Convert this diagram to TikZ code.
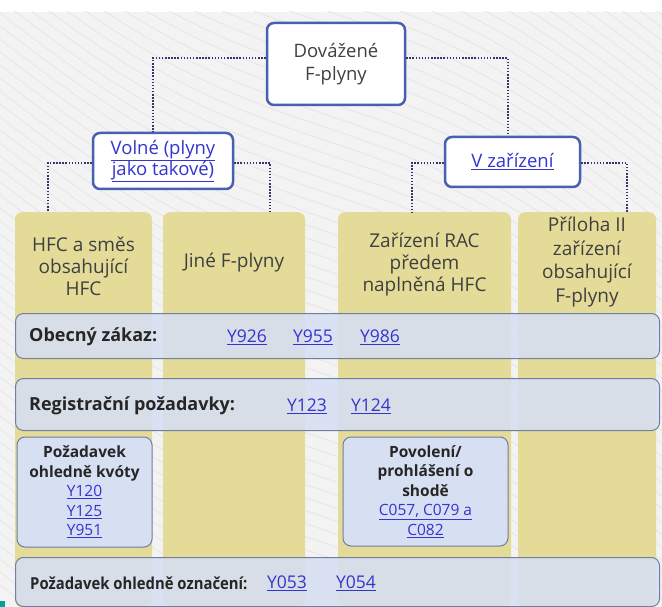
\documentclass[tikz,border=0pt]{standalone}
\usepackage{fontspec}
\setmainfont{Open Sans}
\newfontfamily\narrowfont[FakeStretch=0.9]{Open Sans}
\usetikzlibrary{positioning}
\definecolor{bggray}{RGB}{243,243,243}
\definecolor{wavegray}{RGB}{230,230,230}
\definecolor{frameblue}{RGB}{72,96,176}
\definecolor{dotnavy}{RGB}{52,52,112}
\definecolor{khaki}{RGB}{228,219,153}
\definecolor{barblue}{RGB}{215,223,242}
\definecolor{barline}{RGB}{112,126,160}
\definecolor{linkblue}{RGB}{52,52,208}
\definecolor{textgray}{RGB}{64,64,64}
\definecolor{markteal}{RGB}{0,160,160}
\newcommand{\lnk}[1]{\textcolor{linkblue}{\underline{#1}}}

\tikzset{
  headbox/.style={draw=frameblue, line width=2.5pt, rounded corners=7pt, fill=white,
    align=center, text=textgray, font=\fontsize{18.5}{23}\selectfont},
  conn/.style={draw=dotnavy, line width=1.8pt, dash pattern=on 1.5pt off 1.6pt},
  column/.style={fill=khaki, rounded corners=7pt, inner sep=0pt, anchor=north},
  coltext/.style={align=center, text=textgray, font=\fontsize{19}{22}\selectfont},
  bar/.style={draw=barline, line width=1pt, fill=barblue, fill opacity=0.88,
    rounded corners=8pt, inner sep=0pt, anchor=north west},
  bartext/.style={anchor=west, text=black!85, inner sep=0pt,
    font=\fontsize{18}{20}\selectfont\bfseries},
  link/.style={inner sep=0pt, font=\fontsize{17.5}{20}\selectfont},
  subbox/.style={draw=barline, line width=1pt, fill=barblue, rounded corners=8pt,
    align=center, text=black!85, inner sep=0pt, font=\fontsize{15.5}{19.5}\selectfont},
  wave/.style={draw=wavegray, line width=0.8pt}
}

\begin{document}
\begin{tikzpicture}[x=1pt,y=-1pt]
	\useasboundingbox (0,0) rectangle (662,607);
	\fill[bggray] (0,12) rectangle (662,607);
	\begin{scope}
		\clip (0,12) rectangle (662,607);
		\foreach \i in {-50,...,45}
			\draw[wave] plot[domain=0:662, samples=60, smooth] (\x, {\i*13 + 0.55*\x + 22*sin(0.55*\x)});
	\end{scope}
	\fill[markteal] (0,601) rectangle (5,607);

	% columns
	\node[column, minimum width=137, minimum height=395] (c1) at (83.5,212) {};
	\node[column, minimum width=142, minimum height=395] (c2) at (234,212) {};
	\node[column, minimum width=173, minimum height=395] (c3) at (424.5,212) {};
	\node[column, minimum width=138, minimum height=395] (c4) at (587,212) {};
	\node[coltext] (t1) at (83.5,266) {HFC a směs\\obsahující\\HFC};
	\node[coltext] (t2) at (234,263) {Jiné F-plyny};
	\node[coltext] (t3) at (424.5,265) {Zařízení RAC\\předem\\naplněná HFC};
	\node[coltext, font=\fontsize{19}{23.5}\selectfont] (t4) at (587,262) {Příloha II\\zařízení\\obsahující\\F-plyny};

	% tree
	\node[headbox, minimum width=138, minimum height=82] (root) at (336,64) {Dovážené\\F-plyny};
	\node[headbox, minimum width=140, minimum height=56, font=\fontsize{18.5}{21}\selectfont] (free) at (163,161) {\lnk{Volné (plyny}\\\lnk{jako takové)}};
	\node[headbox, minimum width=135, minimum height=50] (equip) at (512.5,162) {\lnk{V zařízení}};

	\draw[conn] ([yshift=6pt]root.west) -| ([xshift=-10pt]free.north);
	\draw[conn] ([yshift=6pt]root.east) -| ([xshift=-4.5pt]equip.north);
	\draw[conn] ([yshift=-2pt]free.west) -| ([xshift=-35.5pt]c1.north);
	\draw[conn] ([yshift=-2pt]free.east) -| ([xshift=36pt]c2.north);
	\draw[conn] ([yshift=-1pt]equip.west) -| ([xshift=-12.5pt]c3.north);
	\draw[conn] ([yshift=-1pt]equip.east) -| ([xshift=40pt]c4.north);

	% requirement bars
	\node[bar, minimum width=644, minimum height=45] (ban) at (15,313) {};
	\node[bartext] (bantext) at (29,337) {Obecný zákaz:};
	\node[link] (y926) at (247,337) {\lnk{Y926}};
	\node[link] (y955) at (313,337) {\lnk{Y955}};
	\node[link] (y986) at (380,337) {\lnk{Y986}};

	\node[bar, minimum width=644, minimum height=52] (reg) at (15,378) {};
	\node[bartext] (regtext) at (29,406) {Registrační požadavky:};
	\node[link] (y123) at (307,406) {\lnk{Y123}};
	\node[link] (y124) at (371,406) {\lnk{Y124}};

	\node[subbox, minimum width=135, minimum height=110] (quota) at (84.5,492) {\textbf{Požadavek}\\\textbf{ohledně kvóty}\\\lnk{Y120}\\\lnk{Y125}\\\lnk{Y951}};
	\node[subbox, minimum width=165, minimum height=109] (permit) at (425.5,491.5) {\textbf{Povolení/}\\\textbf{prohlášení o}\\\textbf{shodě}\\\lnk{C057, C079 a}\\\lnk{C082}};

	\node[bar, minimum width=644, minimum height=49] (mark) at (15,557) {};
	\node[bartext, font=\fontsize{16.5}{20}\narrowfont\bfseries] (marktext) at (30,583) {Požadavek ohledně označení:};
	\node[link] (y053) at (287,583) {\lnk{Y053}};
	\node[link] (y054) at (356,583) {\lnk{Y054}};
\end{tikzpicture}
\end{document}
